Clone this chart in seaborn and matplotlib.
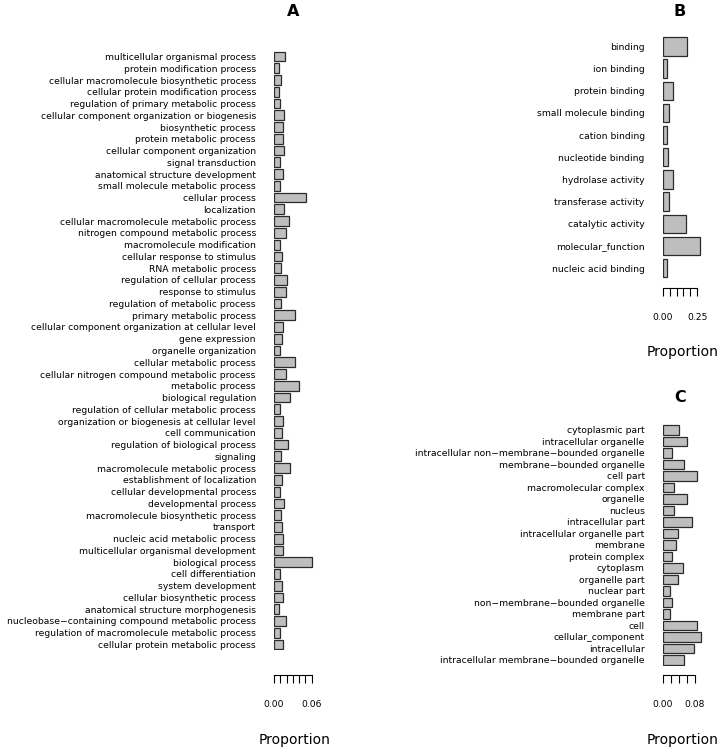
import numpy as np
import pandas as pd
import matplotlib
matplotlib.use("Agg")
import matplotlib.pyplot as plt
import seaborn as sns

# panel A: biological process terms
bp_terms = [
    "multicellular organismal process", "protein modification process",
    "cellular macromolecule biosynthetic process", "cellular protein modification process",
    "regulation of primary metabolic process", "cellular component organization or biogenesis",
    "biosynthetic process", "protein metabolic process", "cellular component organization",
    "signal transduction", "anatomical structure development", "small molecule metabolic process",
    "cellular process", "localization", "cellular macromolecule metabolic process",
    "nitrogen compound metabolic process", "macromolecule modification",
    "cellular response to stimulus", "RNA metabolic process", "regulation of cellular process",
    "response to stimulus", "regulation of metabolic process", "primary metabolic process",
    "cellular component organization at cellular level", "gene expression",
    "organelle organization", "cellular metabolic process",
    "cellular nitrogen compound metabolic process", "metabolic process", "biological regulation",
    "regulation of cellular metabolic process", "organization or biogenesis at cellular level",
    "cell communication", "regulation of biological process", "signaling",
    "macromolecule metabolic process", "establishment of localization",
    "cellular developmental process", "developmental process",
    "macromolecule biosynthetic process", "transport", "nucleic acid metabolic process",
    "multicellular organismal development", "biological process", "cell differentiation",
    "system development", "cellular biosynthetic process", "anatomical structure morphogenesis",
    "nucleobase\u2212containing compound metabolic process",
    "regulation of macromolecule metabolic process", "cellular protein metabolic process",
]
bp_prop = [
    0.0174, 0.0080, 0.0110, 0.0080, 0.0095, 0.0160,
    0.0140, 0.0140, 0.0160, 0.0095, 0.0140, 0.0095,
    0.0510, 0.0160, 0.0240, 0.0195, 0.0095, 0.0130,
    0.0110, 0.0210, 0.0185, 0.0110, 0.0330, 0.0140,
    0.0127, 0.0100, 0.0337, 0.0190, 0.0405, 0.0247,
    0.0095, 0.0140, 0.0120, 0.0230, 0.0110, 0.0260,
    0.0127, 0.0095, 0.0160, 0.0110, 0.0120, 0.0148,
    0.0140, 0.0600, 0.0095, 0.0120, 0.0137, 0.0085,
    0.0190, 0.0100, 0.0137,
]

# panel B: molecular function terms
mf_terms = [
    "binding", "ion binding", "protein binding", "small molecule binding",
    "cation binding", "nucleotide binding", "hydrolase activity",
    "transferase activity", "catalytic activity", "molecular_function",
    "nucleic acid binding",
]
mf_prop = [0.178, 0.034, 0.074, 0.043, 0.034, 0.041, 0.074, 0.048, 0.170, 0.271, 0.031]

# panel C: cellular component terms
cc_terms = [
    "cytoplasmic part", "intracellular organelle",
    "intracellular non\u2212membrane\u2212bounded organelle", "membrane\u2212bounded organelle",
    "cell part", "macromolecular complex", "organelle", "nucleus", "intracellular part",
    "intracellular organelle part", "membrane", "protein complex", "cytoplasm",
    "organelle part", "nuclear part", "non\u2212membrane\u2212bounded organelle",
    "membrane part", "cell", "cellular_component", "intracellular",
    "intracellular membrane\u2212bounded organelle",
]
cc_prop = [
    0.0396, 0.0610, 0.0227, 0.0520, 0.0858, 0.0270, 0.0610, 0.0290, 0.0740,
    0.0380, 0.0330, 0.0230, 0.0500, 0.0390, 0.0170, 0.0235, 0.0170, 0.0866,
    0.0950, 0.0790, 0.0520,
]

sns.set_style("white")
plt.rcParams["font.family"] = ["DejaVu Sans"]
for key in ["text.color", "axes.labelcolor", "xtick.color", "ytick.color"]:
    plt.rcParams[key] = "black"

W, H = 720, 751
fig = plt.figure(figsize=(W / 100, H / 100), dpi=100)


def px_axes(left, top, width, height):
    return fig.add_axes([left / W, 1 - (top + height) / H, width / W, height / H])


def panel(ax, terms, props, xmax, ticks, tick_labels, offset_px, label_pad):
    df = pd.DataFrame({"term": terms, "prop": props})
    sns.barplot(data=df, x="prop", y="term", orient="h", color="#bebebe",
                saturation=1, edgecolor="#2b2b2b", linewidth=0.9, width=0.83, ax=ax)
    ax.set_xlim(0, xmax)
    for s in ["left", "top", "right"]:
        ax.spines[s].set_visible(False)
    ax.spines["bottom"].set_position(("outward", offset_px * 0.72))
    ax.spines["bottom"].set_bounds(ticks[0], ticks[-1])
    ax.spines["bottom"].set_linewidth(0.8)
    ax.spines["bottom"].set_color("black")
    ax.set_xticks(ticks)
    ax.set_xticklabels(tick_labels)
    ax.tick_params(axis="x", direction="out", length=6, width=0.8, pad=label_pad,
                   labelsize=6.6, bottom=True, color="black", labelcolor="black")
    ax.tick_params(axis="y", length=0, pad=13, labelsize=6.7, labelcolor="black")
    ax.set_ylabel("")
    ax.set_xlabel("Proportion", fontsize=10, color="black")


# panel A
axA = px_axes(274, 50.6, 41.5, 599.8)
panel(axA, bp_terms, bp_prop, 0.066, np.arange(0, 0.061, 0.01),
      ["0.00", "", "", "", "", "", "0.06"], 24.6, 12)

# panel B
axB = px_axes(662.7, 35.4, 38.8, 243.7)
panel(axB, mf_terms, mf_prop, 0.28, np.arange(0, 0.251, 0.05),
      ["0.00", "", "", "", "", "0.25"], 9, 12)

# panel C
axC = px_axes(662.7, 424.2, 40, 241.5)
panel(axC, cc_terms, cc_prop, 0.1, np.arange(0, 0.081, 0.02),
      ["0.00", "", "", "", "0.08"], 9.3, 12)

# panel letters and axis labels at pixel positions
for ax, letter, lx, ly, xlab_y in [(axA, "A", 293, 12, 740),
                                   (axB, "B", 680, 12, 352),
                                   (axC, "C", 680, 397, 740)]:
    fig.text(lx / W, 1 - ly / H, letter, fontsize=11.5, fontweight="bold",
             ha="center", va="center", color="black")
    bb = ax.get_position()
    top_px = (1 - bb.y1) * H
    h_px = bb.height * H
    ax.xaxis.set_label_coords(0.5, (top_px + h_px - xlab_y) / h_px)
    ax.xaxis.label.set_va("center")

fig.savefig("out.png", dpi=100, facecolor="white")
